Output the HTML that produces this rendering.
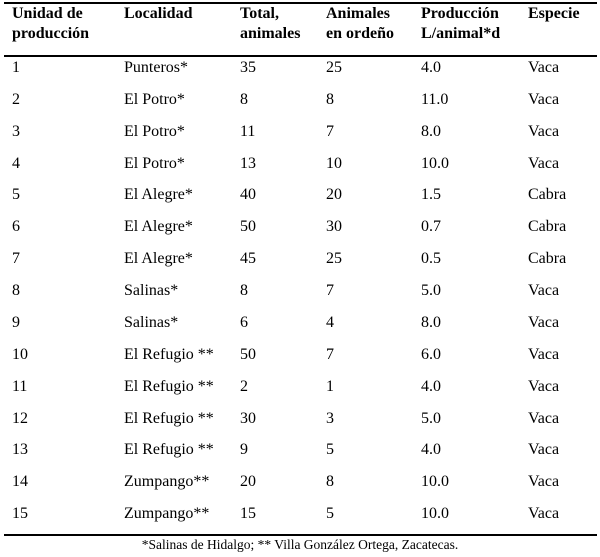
<!DOCTYPE html>
<html><head><meta charset="utf-8"><style>
html,body{margin:0;padding:0;background:#fff;}
body{width:600px;height:557px;position:relative;overflow:hidden;font-family:"Liberation Serif",serif;color:#000;font-size:16px;}
.l{position:absolute;left:4px;width:593px;height:1.5px;background:#000;}
.t{position:absolute;white-space:nowrap;line-height:18px;}
.h{font-weight:bold;}
</style></head><body>
<div class="l" style="top:2px"></div>
<div class="l" style="top:55px"></div>
<div class="l" style="top:534px"></div>
<div id="c"></div>
<div class="t" style="left:0;width:600px;text-align:center;top:536px;font-size:13.5px;">*Salinas de Hidalgo; ** Villa González Ortega, Zacatecas.</div>
<script>
var xs=[12,124,240,326,421,528];
var hd=[["Unidad de","producción"],["Localidad",""],["Total,","animales"],["Animales","en ordeño"],["Producción","L/animal*d"],["Especie",""]];
var rows=[["1","Punteros*","35","25","4.0","Vaca"],["2","El Potro*","8","8","11.0","Vaca"],["3","El Potro*","11","7","8.0","Vaca"],["4","El Potro*","13","10","10.0","Vaca"],["5","El Alegre*","40","20","1.5","Cabra"],["6","El Alegre*","50","30","0.7","Cabra"],["7","El Alegre*","45","25","0.5","Cabra"],["8","Salinas*","8","7","5.0","Vaca"],["9","Salinas*","6","4","8.0","Vaca"],["10","El Refugio **","50","7","6.0","Vaca"],["11","El Refugio **","2","1","4.0","Vaca"],["12","El Refugio **","30","3","5.0","Vaca"],["13","El Refugio **","9","5","4.0","Vaca"],["14","Zumpango**","20","8","10.0","Vaca"],["15","Zumpango**","15","5","10.0","Vaca"]];
var h="";
hd.forEach(function(c,i){h+='<div class="t h" style="left:'+xs[i]+'px;top:5px">'+c[0]+'</div>';if(c[1])h+='<div class="t h" style="left:'+xs[i]+'px;top:25px">'+c[1]+'</div>';});
rows.forEach(function(r,j){var y=68+31.86*j-9;r.forEach(function(v,i){h+='<div class="t" style="left:'+xs[i]+'px;top:'+y.toFixed(1)+'px">'+v+'</div>';});});
document.getElementById('c').innerHTML=h;
</script>
</body></html>
